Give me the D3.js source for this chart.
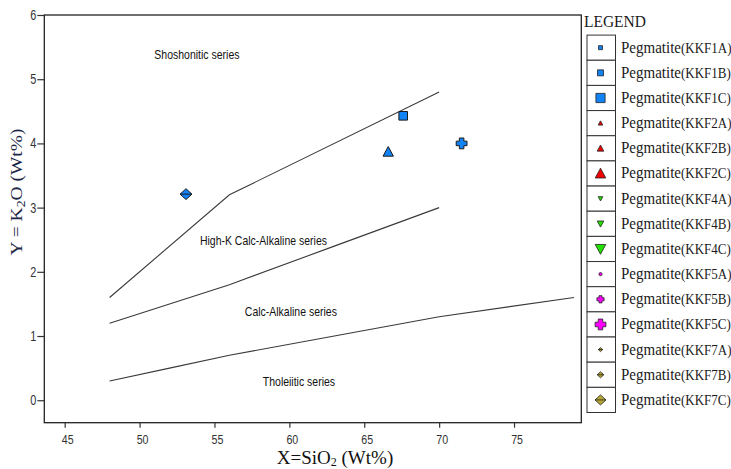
<!DOCTYPE html>
<html><head><meta charset="utf-8">
<script src="https://cdn.jsdelivr.net/npm/d3@7"></script>
<style>body{margin:0;background:#fff}</style>
</head><body><svg id="c" width="731" height="469"></svg>
<script>
// ---------- data ----------
const xTicks = [45, 50, 55, 60, 65, 70, 75];
const yTicks = [0, 1, 2, 3, 4, 5, 6];

// Peccerillo & Taylor boundaries (SiO2, K2O)
const shoSiO2 = [48, 56, 70];
const shoK2O  = [1.6, 3.2, 4.8];
const hkSiO2  = [48, 52, 56, 63, 70];
const hkK2O   = [1.2, 1.5, 1.8, 2.4, 3.0];
const thSiO2  = [48, 52, 56, 63, 70, 79];
const thK2O   = [0.3, 0.5, 0.7, 1.0, 1.3, 1.6];

const seriesNames = ["Shoshonitic series", "High-K Calc-Alkaline series", "Calc-Alkaline series", "Tholeiitic series"];

// plotted samples
const sampleIds   = ["KKF7", "KKF1", "KKF2", "KKF5"];
const sampleSiO2  = [53.1, 67.6, 66.6, 71.5];
const sampleK2O   = [3.21, 4.43, 3.87, 4.0];
const sampleShape = ["diamond", "square", "triangle", "cross"];

// legend entries
const legendCodes = ["KKF1A","KKF1B","KKF1C","KKF2A","KKF2B","KKF2C","KKF4A","KKF4B","KKF4C",
                     "KKF5A","KKF5B","KKF5C","KKF7A","KKF7B","KKF7C"];
const legendShape = ["square","square","square","triangle","triangle","triangle","tridown","tridown","tridown",
                     "circle","cross","cross","diamond","diamond","diamond"];
const legendColor = ["#1283f5","#1283f5","#1283f5","#f00000","#f00000","#f00000","#22e000","#22e000","#22e000",
                     "#ff00ff","#ff00ff","#ff00ff","#b8a633","#b8a633","#b8a633"];

// ---------- layout / style ----------
const L = 44.3, R = 581.3, T = 15, B = 422.7;
const seriesLabelPos = [[53.83, 5.39], [58.27, 2.485], [60.1, 1.38], [60.64, 0.285]];
const legendSizeByIdx = [2, 3, 4.6, 2.3, 3.3, 5.3, 2.3, 3.3, 5.3, 1.6, 3.6, 5.4, 2, 3, 5];
const sampleSizeByShape = { diamond: 5.4, square: 4.3, triangle: 5.2, cross: 5.4 };

const svg = d3.select("#c");
const x = d3.scaleLinear().domain([43.64, 79.49]).range([L, R]);
const y = d3.scaleLinear().domain([-0.35, 6]).range([B, T]);

// shapes
function shapePath(shape, r) {
  const p = d3.path();
  if (shape === "square") { p.rect(-r, -r, 2*r, 2*r); }
  else if (shape === "triangle") { p.moveTo(0,-r); p.lineTo(r, r*0.85); p.lineTo(-r, r*0.85); p.closePath(); }
  else if (shape === "tridown") { p.moveTo(0,r); p.lineTo(r,-r*0.85); p.lineTo(-r,-r*0.85); p.closePath(); }
  else if (shape === "circle") { p.arc(0,0,r,0,2*Math.PI); }
  else if (shape === "cross") {
    const w = r*0.42;
    p.moveTo(-w,-r); p.lineTo(w,-r); p.lineTo(w,-w); p.lineTo(r,-w); p.lineTo(r,w); p.lineTo(w,w);
    p.lineTo(w,r); p.lineTo(-w,r); p.lineTo(-w,w); p.lineTo(-r,w); p.lineTo(-r,-w); p.lineTo(-w,-w); p.closePath();
  }
  else if (shape === "diamond") {
    p.moveTo(0,-r); p.lineTo(r*1.1,0); p.lineTo(0,r); p.lineTo(-r*1.1,0); p.closePath();
    p.moveTo(-r*1.1,0); p.lineTo(r*1.1,0);
  }
  return p.toString();
}

// plot frame
svg.append("rect").attr("x", L).attr("y", T).attr("width", R-L).attr("height", B-T)
  .attr("fill", "#fff").attr("stroke", "#222").attr("stroke-width", 1.3);

// axes (ticks)
const xAxis = svg.append("g").attr("transform", `translate(0,${B})`)
  .call(d3.axisBottom(x).tickValues(xTicks).tickSize(5).tickSizeOuter(0).tickFormat(""));
const yAxis = svg.append("g").attr("transform", `translate(${L},0)`)
  .call(d3.axisLeft(y).tickValues(yTicks).tickSize(7).tickSizeOuter(0).tickFormat(""));
[xAxis, yAxis].forEach(a => { a.select(".domain").remove(); a.selectAll("line").attr("stroke", "#333").attr("stroke-width", 1.2); });

const tickFont = "Liberation Sans, Arial, sans-serif";
svg.append("g").selectAll("text").data(xTicks).join("text")
  .attr("transform", d => `translate(${x(d)+3},${B+21.5}) scale(0.82,1.05)`)
  .attr("text-anchor", "middle").attr("font-family", tickFont).attr("font-size", 13).attr("fill", "#333")
  .text(d => d);
svg.append("g").selectAll("text").data(yTicks).join("text")
  .attr("transform", d => `translate(${L-8},${y(d)+5}) scale(0.78,1)`)
  .attr("text-anchor", "end").attr("font-family", tickFont).attr("font-size", 14).attr("fill", "#333")
  .text(d => d);

// boundary lines
const line = d3.line().x(d => x(d[0])).y(d => y(d[1]));
[[shoSiO2, shoK2O], [hkSiO2, hkK2O], [thSiO2, thK2O]].forEach(([sx, ky]) => {
  svg.append("path").attr("d", line(sx.map((v, i) => [v, ky[i]])))
    .attr("fill", "none").attr("stroke", "#3a3a3a").attr("stroke-width", 1.1);
});

// series labels
svg.append("g").selectAll("text").data(seriesNames).join("text")
  .attr("transform", (d, i) => `translate(${x(seriesLabelPos[i][0])},${y(seriesLabelPos[i][1])+4.5}) scale(0.84,1)`)
  .attr("text-anchor", "middle").attr("font-family", tickFont).attr("font-size", 12.5).attr("fill", "#111")
  .text(d => d);

// samples
svg.append("g").selectAll("path").data(sampleIds).join("path")
  .attr("transform", (d, i) => `translate(${x(sampleSiO2[i])},${y(sampleK2O[i])})`)
  .attr("d", (d, i) => shapePath(sampleShape[i], sampleSizeByShape[sampleShape[i]]))
  .attr("fill", "#1283f5").attr("stroke", "#1a1a1a").attr("stroke-width", 1);

// axis titles
const serif = "Liberation Serif, Times New Roman, serif";
const xt = svg.append("text").attr("x", 335).attr("y", 463.5).attr("text-anchor", "middle")
  .attr("font-family", serif).attr("font-size", 19).attr("fill", "#111");
xt.append("tspan").text("X=SiO");
xt.append("tspan").attr("font-size", 12).attr("dy", 2.5).text("2");
xt.append("tspan").attr("dy", -2.5).text(" (Wt%)");

const ytg = svg.append("g").attr("transform", "translate(22,192) rotate(-90)");
const ytIn = ytg.append("g");
const yt = ytIn.append("text").attr("text-anchor", "middle")
  .attr("font-family", serif).attr("font-size", 17).attr("fill", "#1b2745");
yt.append("tspan").text("Y = K");
yt.append("tspan").attr("font-size", 12).attr("dy", 3).text("2");
yt.append("tspan").attr("dy", -3).text("O (Wt%)");
const ytLen = yt.node().getBBox().width;
ytIn.attr("transform", `scale(${127 / ytLen},1)`);

// legend
svg.append("text").attr("transform", "translate(584,27) scale(1,1.12)").attr("font-family", serif).attr("font-size", 15.5)
  .attr("fill", "#1a1a1a").text("LEGEND");
const rowH = 25.16, top0 = 35.1;
const lg = svg.append("g").selectAll("g").data(legendCodes).join("g")
  .attr("transform", (d, i) => `translate(0,${top0 + i*rowH})`);
lg.append("rect").attr("x", 587).attr("y", 0).attr("width", 28.5).attr("height", rowH)
  .attr("fill", "#fff").attr("stroke", "#333").attr("stroke-width", 1);
lg.append("path").attr("transform", `translate(600.5,${rowH/2})`)
  .attr("d", (d, i) => shapePath(legendShape[i], legendSizeByIdx[i]))
  .attr("fill", (d, i) => legendColor[i]).attr("stroke", "#222").attr("stroke-width", 0.8);
const lt = lg.append("text").attr("transform", `translate(621,${rowH/2 + 5}) scale(1,1.15)`)
  .attr("font-family", serif).attr("fill", "#1a1a1a");
lt.append("tspan").attr("font-size", 15).text("Pegmatite");
lt.append("tspan").attr("font-size", 13).text(d => `(${d})`);
</script>
</body></html>
